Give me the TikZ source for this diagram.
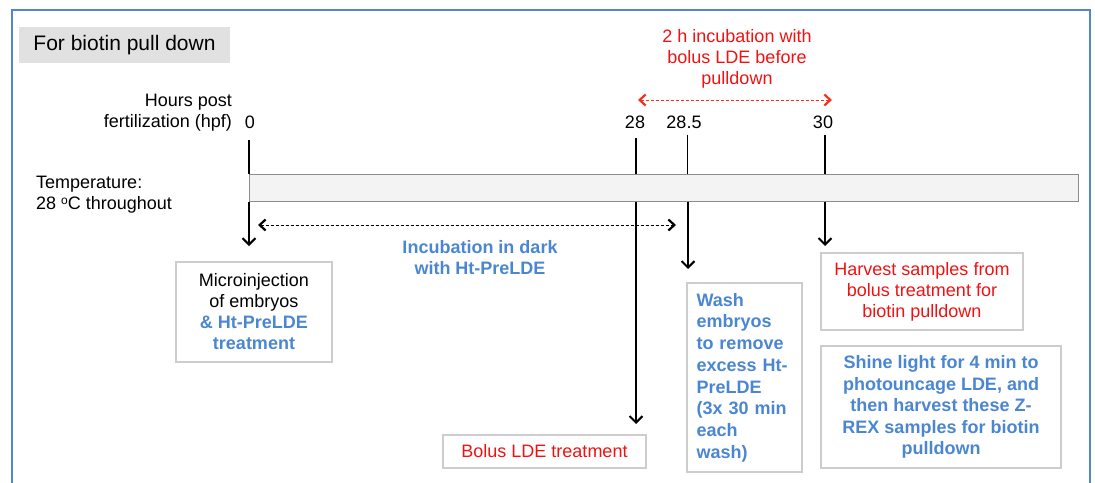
\documentclass[tikz,border=0pt]{standalone}
\usepackage{fontspec}
\setmainfont{Liberation Sans}
\usetikzlibrary{arrows.meta}
\definecolor{fblue}{RGB}{82,134,204}
\definecolor{tblue}{RGB}{74,134,210}
\definecolor{tred}{RGB}{240,18,18}
\definecolor{ared}{RGB}{240,50,30}
\definecolor{boxgray}{RGB}{205,205,205}
\definecolor{titlegray}{RGB}{225,225,225}
\definecolor{bargray}{RGB}{243,243,243}
\definecolor{barline}{RGB}{140,140,140}
\begin{document}
\begin{tikzpicture}[x=1pt,y=-1pt,
  every node/.style={inner sep=0pt, font=\fontsize{18}{21}\selectfont},
  tick/.style={line width=1.2pt},
  arr/.style={line width=1.2pt, -{Straight Barb[length=6.5pt,width=13pt,line width=2pt]}},
  darr/.style={line width=0.9pt, dash pattern=on 3pt off 2pt, {Straight Barb[length=6pt,width=11pt,line width=2.2pt]}-{Straight Barb[length=6pt,width=11pt,line width=2.2pt]}},
  box/.style={draw=boxgray, line width=1.2pt, align=center},
  bl/.style={text=tblue, font=\fontsize{18}{21.5}\selectfont\bfseries},
]
\useasboundingbox (0,0) rectangle (1095,482);
% outer frame
\draw[fblue, line width=1.5pt] (12,484) -- (12,10) -- (1090,10) -- (1090,484);
% title
\node[fill=titlegray, minimum width=211pt, minimum height=36pt, font=\fontsize{21}{25}\selectfont] (title) at (124.5,45) {For biotin pull down};
% labels
\node[anchor=north east, align=right] (hpf) at (232,94) {Hours post\\fertilization (hpf)};
\node[anchor=base] (l0) at (250,128) {0};
\node[anchor=base] (l28) at (635,128) {28};
\node[anchor=base] (l285) at (684,128) {28.5};
\node[anchor=base] (l30) at (823,128) {30};
\node[anchor=north west, align=left] (temp) at (36,176) {Temperature:\\28 {\fontsize{12}{12}\selectfont\raisebox{5pt}{o}}C throughout};
\node[anchor=north, align=center, text=tred] (redtxt) at (737,29) {2 h incubation with\\bolus LDE before\\pulldown};
\node[anchor=north, align=center, bl] (inc) at (480,240) {Incubation in dark\\with Ht-PreLDE};
% timeline bar
\node[draw=barline, fill=bargray, line width=1pt, minimum width=829pt, minimum height=27pt] (bar) at (663.5,187.5) {};
% tick coordinates
\coordinate (t0) at (249,140);
\coordinate (t28) at (636,138);
\coordinate (t285) at (687.5,135);
\coordinate (t30) at (825,135);
\draw[tick] (t0) -- (t0 |- bar.north);
\draw[tick] (t28) -- (t28 |- bar.north);
\draw[tick] (t285) -- (t285 |- bar.north);
\draw[tick] (t30) -- (t30 |- bar.north);
% arrow ends
\coordinate (e0) at (249,246);
\coordinate (e28) at (636,424);
\coordinate (e285) at (688,269);
\coordinate (e30) at (825,246);
\draw[arr] (t0 |- bar.south) -- (e0);
\draw[arr] (t28 |- bar.south) -- (e28);
\draw[arr] (e285 |- bar.south) -- (e285);
\draw[arr] (t30 |- bar.south) -- (e30);
% dashed arrows
\coordinate (dL) at (258,225);
\coordinate (dR) at (676,225);
\draw[darr] (dL) -- (dR);
\coordinate (rL) at (638,100);
\coordinate (rR) at (832,100);
\draw[darr, ared] (rL) -- (rR);
% boxes
\node[box, minimum width=156pt, minimum height=100pt] (micro) at (254,312)
  {Microinjection\\of embryos\\{\color{tblue}\bfseries \& Ht-PreLDE}\\{\color{tblue}\bfseries treatment}};
\node[box, minimum width=203pt, minimum height=33pt, text=tred] (bolus) at (544.5,451.5) {Bolus LDE treatment};
\node[box, bl, align=left, text width=96pt, inner xsep=9.5pt, minimum height=189pt, font=\fontsize{18}{21.7}\selectfont\bfseries] (wash) at (744.5,377.5)
  {Wash\\embryos\\to remove\\excess Ht-\\PreLDE\\(3x 30 min\\each\\wash)};
\node[box, minimum width=202pt, minimum height=77pt, text=tred] (harv) at (922,291.5)
  {Harvest samples from\\bolus treatment for\\biotin pulldown};
\node[box, bl, minimum width=240pt, minimum height=122pt] (shine) at (941,407)
  {Shine light for 4 min to\\photouncage LDE, and\\then harvest these Z-\\REX samples for biotin\\pulldown};
\end{tikzpicture}
\end{document}
